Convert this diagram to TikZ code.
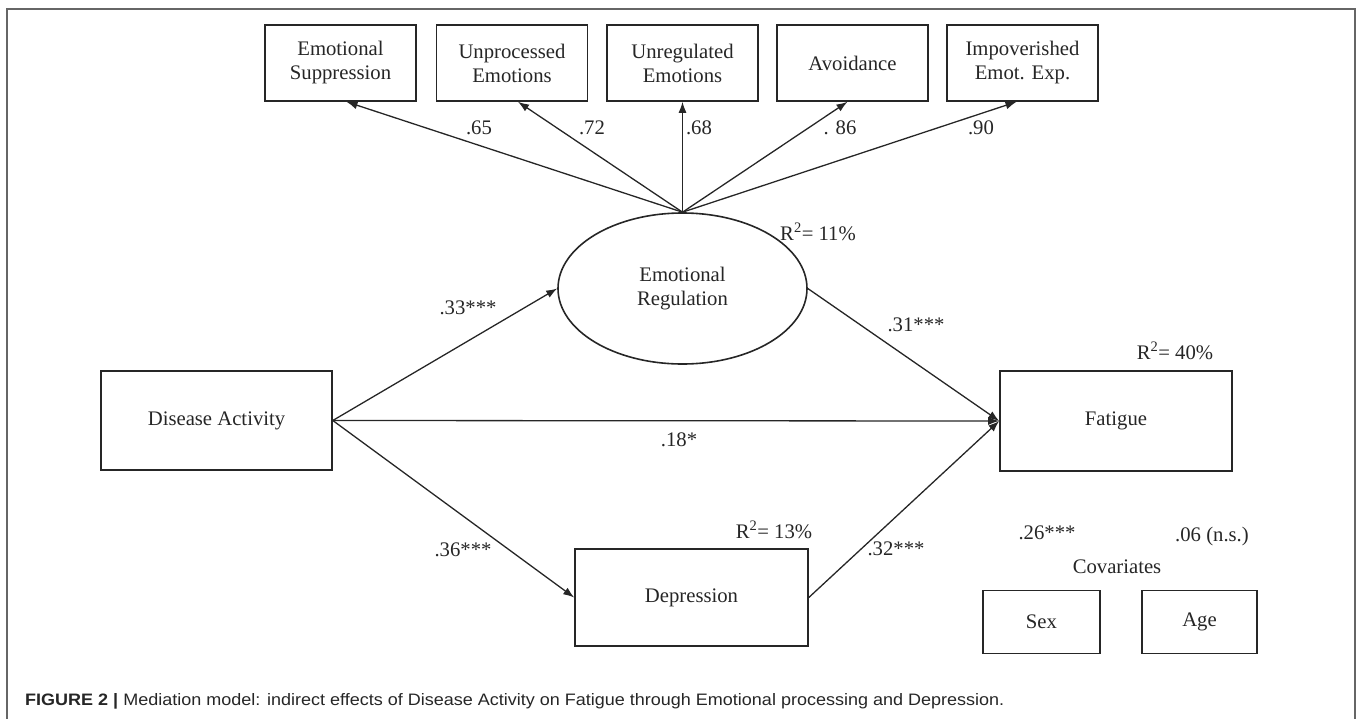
\documentclass[tikz,border=0pt]{standalone}
\usepackage{fontspec}
\setmainfont{Liberation Serif}
\newfontfamily\capfont{Liberation Sans}
\usetikzlibrary{arrows.meta,shapes.geometric}
\tikzset{
	box/.style={draw=black!85, line width=1.6pt, align=center, inner sep=0pt, text=black!85, font=\fontsize{20.7}{24}\selectfont},
	lbl/.style={inner sep=0pt, text=black!85, font=\fontsize{20.7}{24}\selectfont},
	arr/.style={line width=1.3pt, draw=black!85, -{Latex[length=11pt,width=8pt]}}
}

\begin{document}
\begin{tikzpicture}[x=1pt, y=-1pt]
		%%%%% START %%%%%
		\useasboundingbox (0,0) rectangle (1357,718);
		
		\draw[line width=2pt, color=black!60] (7,720) -- (7,9) -- (1355,9) -- (1355,720);
		
		% indicators
		\node[box, minimum width=151pt, minimum height=76pt] (es) at (340.5,63) {Emotional\\Suppression};
		\node[box, minimum width=151pt, minimum height=76pt] (up) at (512,63) {Unprocessed\\Emotions};
		\node[box, minimum width=151pt, minimum height=76pt] (ur) at (682.5,63) {Unregulated\\Emotions};
		\node[box, minimum width=151pt, minimum height=76pt] (av) at (852.5,63) {Avoidance};
		\node[box, minimum width=151pt, minimum height=76pt] (ie) at (1022.5,63) {Impoverished\\Emot. Exp.};
		
		% latent
		\node[box, ellipse, minimum width=249pt, minimum height=151pt] (elr) at (682.5,288.5) {Emotional\\Regulation};
		
		\node[box, minimum width=231pt, minimum height=99pt] (da) at (216.5,420.5) {Disease Activity};
		\node[box, minimum width=232pt, minimum height=100pt] (fa) at (1116,421) {Fatigue};
		\node[box, minimum width=233pt, minimum height=97pt] (dep) at (691.5,597.5) {Depression};
		
		\node[box, minimum width=117pt, minimum height=63pt] (sex) at (1041.5,622) {Sex};
		\node[box, minimum width=115pt, minimum height=63pt] (age) at (1199.5,622) {Age};
		
		% loadings
		\draw[arr] (elr.north) -- ([xshift=6pt]es.south);
		\draw[arr] (elr.north) -- ([xshift=6pt]up.south);
		\draw[arr] (elr.north) -- (ur.south);
		\draw[arr] (elr.north) -- ([xshift=-5pt]av.south);
		\draw[arr] (elr.north) -- ([xshift=-6pt]ie.south);
		
		% paths
		\draw[arr] (da.east) -- (elr.west);
		\draw[arr] (da.east) -- (fa.west);
		\draw[arr] (da.east) -- (dep.west);
		\draw[arr] (elr.east) -- (fa.west);
		\draw[arr] (dep.east) -- (fa.west);
		
		\node[lbl] (l65) at (479,128) {.65};
		\node[lbl] (l72) at (592,128) {.72};
		\node[lbl] (l68) at (699,128) {.68};
		\node[lbl] (l86) at (840,128) {. 86};
		\node[lbl] (l90) at (981,128) {.90};
		
		\node[lbl] (r11) at (818,232) {R\textsuperscript{2}= 11\%};
		\node[lbl] (r40) at (1175,351) {R\textsuperscript{2}= 40\%};
		\node[lbl] (r13) at (774,530) {R\textsuperscript{2}= 13\%};
		
		\node[lbl] (l33) at (468,308) {.33***};
		\node[lbl] (l31) at (916,325) {.31***};
		\node[lbl] (l18) at (679,440) {.18*};
		\node[lbl] (l36) at (463,550) {.36***};
		\node[lbl] (l32) at (896,549) {.32***};
		
		\node[lbl] (l26) at (1047,533) {.26***};
		\node[lbl] (l06) at (1212,537) {.06 (n.s.)};
		\node[lbl] (cov) at (1117,567) {Covariates};
		
		\node[anchor=base west, inner sep=0pt, text=black!85] (cap) at (25,705) {\resizebox{979pt}{12pt}{\capfont\textbf{FIGURE 2 |} Mediation model: indirect effects of Disease Activity on Fatigue through Emotional processing and Depression.}};
		%%%%% END %%%%%
\end{tikzpicture}
\end{document}
